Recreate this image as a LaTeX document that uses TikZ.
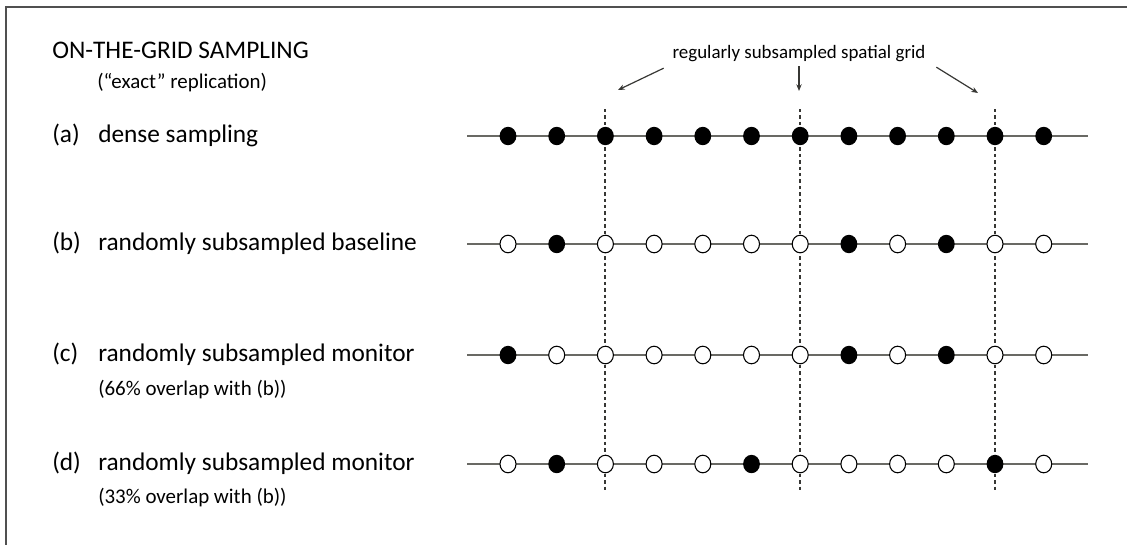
\documentclass[tikz,border=0pt]{standalone}
\usepackage{fontspec}
\setmainfont{Carlito}
\usetikzlibrary{arrows.meta,shapes.geometric}
\definecolor{ink}{RGB}{55,55,52}
\definecolor{wire}{RGB}{105,105,100}
\definecolor{edge}{RGB}{80,80,80}
\tikzset{
  >={Stealth[length=5pt,width=4pt]},
  heading/.style={anchor=base west,inner sep=0pt,font=\fontsize{19}{23}\selectfont},
  note/.style={anchor=base west,inner sep=0pt,font=\fontsize{15.7}{19}\selectfont},
  tag/.style={anchor=base,inner sep=2pt,font=\fontsize{14.2}{17}\selectfont},
  frame/.style={draw=edge,line width=1.5pt},
  rowline/.style={draw=wire,line width=1.1pt},
  gridline/.style={draw=ink,line width=1.1pt,dash pattern=on 2.6pt off 2.2pt},
  pointer/.style={->,draw=ink,line width=0.9pt},
  % sample sites: 1 = taken, 0 = skipped
  site1/.style={ellipse,fill=black,inner sep=0pt,minimum width=12.6pt,minimum height=13.8pt},
  site0/.style={ellipse,draw=black,fill=white,line width=0.8pt,inner sep=0pt,
    minimum width=12pt,minimum height=13.2pt},
}
\begin{document}
\begin{tikzpicture}[x=0.75pt,y=-0.75pt]
  \useasboundingbox (0,0) rectangle (1127,544);
  \clip (0,0) rectangle (1127,544);
  \draw[frame] (6,6.5) rectangle (1150,570);

  % headings
  \node[heading] (title) at (52,58) {ON-THE-GRID SAMPLING};
  \node[note] (sub) at (97,88) {(“exact” replication)};

  % row labels
  \foreach \r/\y/\t in {a/136/dense sampling,b/244/randomly subsampled baseline,
      c/355/randomly subsampled monitor,d/464/randomly subsampled monitor} {
    \node[heading] (tag-\r) at (52,\y+6) {(\r)};
    \node[heading] (lab-\r) at (98,\y+6) {\t};
  }
  \node[note] (note-c) at (98,395) {(66\% overlap with (b))};
  \node[note] (note-d) at (98,503) {(33\% overlap with (b))};

  % regular grid
  \foreach \i/\x in {1/605,2/800,3/995} {
    \coordinate (top-\i) at (\x,109);
    \coordinate (bot-\i) at (\x,492);
    \draw[gridline] (top-\i) -- (bot-\i);
  }

  % sampling rows
  \foreach \r/\y/\pat in {a/136/{1,1,1,1,1,1,1,1,1,1,1,1},
      b/244/{0,1,0,0,0,0,0,1,0,1,0,0},
      c/355/{1,0,0,0,0,0,0,1,0,1,0,0},
      d/464/{0,1,0,0,0,1,0,0,0,0,1,0}} {
    \coordinate (w-\r) at (467,\y);
    \coordinate (e-\r) at (1088,\y);
    \draw[rowline] (w-\r) -- (e-\r);
    \foreach \s [count=\k] in \pat
      \node[site\s] (\r-\k) at (459.3+48.7*\k,\y) {};
  }

  % pointers to the grid
  \node[tag] (grid) at (799,58) {regularly subsampled spatial grid};
  \coordinate (h1) at (618,90);
  \coordinate (h2) at (799,91);
  \coordinate (h3) at (978,93);
  \draw[pointer] ([shift={(-6,4)}]grid.south west) -- (h1);
  \draw[pointer] ([shift={(0,2)}]grid.south) -- (h2);
  \draw[pointer] ([shift={(8,3)}]grid.south east) -- (h3);
\end{tikzpicture}
\end{document}
